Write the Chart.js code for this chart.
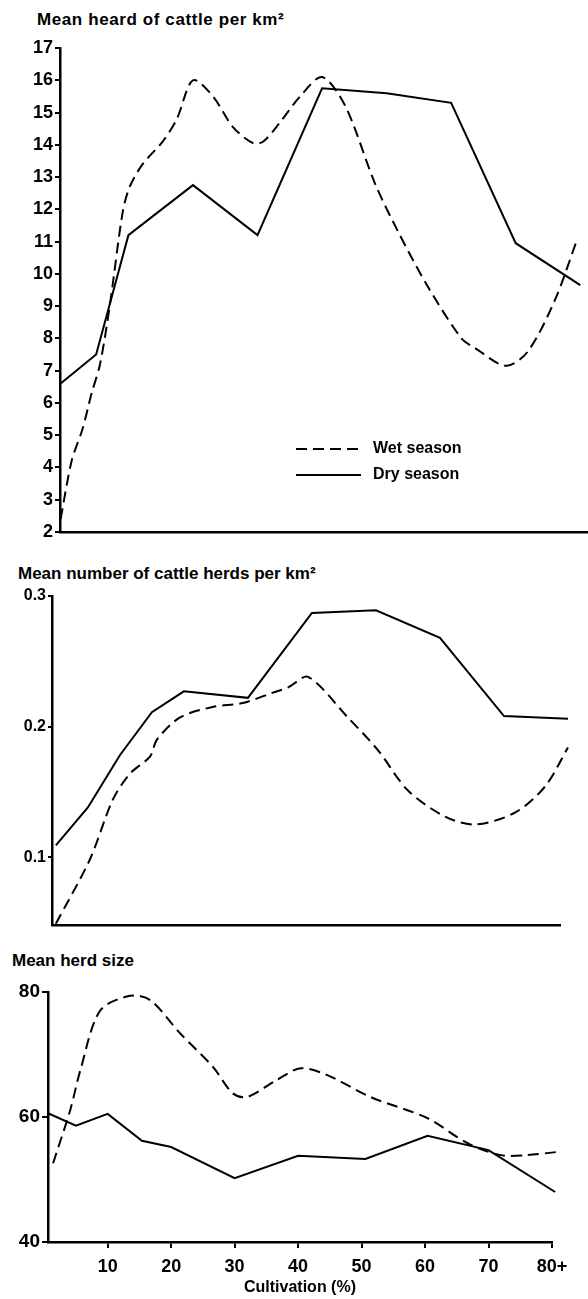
<!DOCTYPE html>
<html>
<head>
<meta charset="utf-8">
<script src="https://cdn.jsdelivr.net/npm/chart.js@4.4.1/dist/chart.umd.min.js"></script>
<style>
  body { margin: 0; background: #fff; width: 588px; height: 1299px; position: relative; overflow: hidden; }
  canvas { position: absolute; left: 0; }
  .title { position: absolute; font: bold 17px "Liberation Sans", Arial, sans-serif; color: #000; white-space: nowrap; line-height: 1; }
</style>
</head>
<body>
<div class="title" style="left:37px; top:11px; letter-spacing:0.6px;">Mean heard of cattle per km²</div>
<canvas id="topChart" width="588" height="548" style="top:0px"></canvas>
<div class="title" style="left:18px; top:565px;">Mean number of cattle herds per km²</div>
<canvas id="midChart" width="588" height="400" style="top:550px"></canvas>
<div class="title" style="left:12px; top:952px;">Mean herd size</div>
<canvas id="botChart" width="588" height="349" style="top:950px"></canvas>
<script>
// values (x = cultivation %)
const seriesNames = ['Wet season', 'Dry season'];

// mean number of cattle per km2
const topWetX = [-0.5, 1.2, 2.9, 4.3, 5.6, 7.1, 9.1, 10.2, 12.2, 15.3, 17.5, 20, 23.1, 26.2, 29.3, 30.9, 33.5, 36.6, 40, 43.6, 48.2, 51.8, 56.4, 61.6, 63.7, 68.5, 71.9, 76.1, 79.4];
const topWetY = [2.4, 4.2, 5.2, 6.3, 7.2, 9.0, 11.9, 12.7, 13.4, 14.1, 14.8, 16.0, 15.5, 14.55, 14.05, 14.1, 14.7, 15.5, 16.1, 15.2, 12.8, 11.3, 9.6, 8.0, 7.7, 7.15, 7.6, 9.2, 11.0];
const topDryX = [-0.5, 5, 10, 20, 30, 40, 50, 60, 70, 80];
const topDryY = [6.6, 7.5, 11.2, 12.75, 11.2, 15.75, 15.6, 15.3, 10.95, 9.65];
const topYTicks = [2, 3, 4, 5, 6, 7, 8, 9, 10, 11, 12, 13, 14, 15, 16, 17];

// mean number of cattle herds per km2
const midWetX = [0, 5.3, 8.9, 11.6, 14.7, 15.8, 19.4, 24.5, 29.2, 33.9, 36.3, 39.4, 45.6, 50.3, 55, 60.8, 65.5, 71.7, 76.4, 80];
const midWetY = [0.049, 0.098, 0.144, 0.164, 0.177, 0.19, 0.207, 0.215, 0.218, 0.226, 0.230, 0.238, 0.207, 0.182, 0.151, 0.131, 0.125, 0.134, 0.154, 0.184];
const midDryX = [0, 5, 10, 15, 20, 30, 40, 50, 60, 70, 80];
const midDryY = [0.109, 0.138, 0.178, 0.211, 0.227, 0.222, 0.287, 0.289, 0.268, 0.208, 0.206];
const midYTicks = [0.1, 0.2, 0.3];

// mean herd size
const botWetX = [1.4, 4.1, 5.7, 8.8, 13.5, 16.7, 21.4, 26.6, 29.7, 32, 36.6, 40.4, 44.6, 51.4, 60.4, 66.7, 71.9, 76, 80.8];
const botWetY = [52.6, 61.1, 67.5, 77, 79.4, 78.7, 73.4, 68, 63.8, 63.2, 65.9, 67.8, 66.7, 63.2, 59.8, 55.8, 53.9, 53.9, 54.4];
const botDryX = [0.6, 5, 10, 15.4, 20, 30, 40, 50.6, 60.4, 70, 80.5];
const botDryY = [60.6, 58.6, 60.5, 56.2, 55.2, 50.2, 53.8, 53.3, 57.0, 54.7, 48.0];
const botYTicks = [40, 60, 80];
const botXTicks = [10, 20, 30, 40, 50, 60, 70, 80];
const botXLabels = ['10', '20', '30', '40', '50', '60', '70', '80+'];

const FONT = '"Liberation Sans", Arial, sans-serif';

function pairs(xs, ys) {
    return xs.map((x, i) => ({ x: x, y: ys[i] }));
}

function seasonSets(wetX, wetY, dryX, dryY) {
    return [{
        label: seriesNames[0],
        data: pairs(wetX, wetY),
        borderColor: '#000',
        borderWidth: 2,
        borderDash: [11, 6],
        tension: 0.3,
        pointRadius: 0,
        clip: false
    }, {
        label: seriesNames[1],
        data: pairs(dryX, dryY),
        borderColor: '#000',
        borderWidth: 2,
        tension: 0,
        pointRadius: 0,
        clip: false
    }];
}

// draws the little key inside the top panel
const seasonKey = {
    id: 'seasonKey',
    afterDatasetsDraw(chart, args, opts) {
        if (!opts.show) return;
        const ctx = chart.ctx;
        chart.data.datasets.forEach((ds, i) => {
            const y = 449 + i * 26;
            ctx.save();
            ctx.strokeStyle = '#000';
            ctx.lineWidth = 2;
            ctx.setLineDash(ds.borderDash || []);
            ctx.beginPath();
            ctx.moveTo(296, y);
            ctx.lineTo(361, y);
            ctx.stroke();
            ctx.setLineDash([]);
            ctx.fillStyle = '#000';
            ctx.font = 'bold 16px ' + FONT;
            ctx.textBaseline = 'middle';
            ctx.fillText(ds.label, 373, y);
            ctx.restore();
        });
    }
};

function buildChart(id, datasets, p) {
    return new Chart(document.getElementById(id), {
        type: 'line',
        data: { datasets: datasets },
        plugins: [seasonKey],
        options: {
            responsive: false,
            animation: false,
            events: [],
            layout: { padding: { top: p.padTop, right: p.padRight, bottom: 0, left: 0 } },
            plugins: {
                legend: { display: false },
                tooltip: { enabled: false },
                seasonKey: { show: !!p.key }
            },
            scales: {
                x: {
                    type: 'linear',
                    min: p.xMin,
                    max: p.xMax,
                    afterFit: s => { s.height = p.xHeight; },
                    afterBuildTicks: s => { s.ticks = (p.xTicks || []).map(v => ({ value: v })); },
                    border: { display: true, color: '#000', width: 2.5 },
                    grid: { display: !!p.xTicks, drawOnChartArea: false, color: '#000', lineWidth: 2, tickLength: 6 },
                    ticks: {
                        display: !!p.xTicks,
                        color: '#000',
                        padding: 8,
                        maxRotation: 0,
                        font: { family: FONT, size: 18, weight: 'bold' },
                        callback: v => p.xLabels ? p.xLabels[p.xTicks.indexOf(v)] : ''
                    },
                    title: {
                        display: !!p.xTitle,
                        text: p.xTitle || '',
                        color: '#000',
                        padding: { top: 0, bottom: 2 },
                        font: { family: FONT, size: 16, weight: 'bold' }
                    }
                },
                y: {
                    min: p.yMin,
                    max: p.yMax,
                    afterFit: s => { s.width = p.yWidth; },
                    afterBuildTicks: s => { s.ticks = p.yTicks.map(v => ({ value: v })); },
                    border: { display: true, color: '#000', width: 2.5 },
                    grid: { drawOnChartArea: false, color: '#000', lineWidth: 2, tickLength: p.tickLen },
                    ticks: {
                        color: '#000',
                        padding: 2,
                        font: { family: FONT, size: p.ySize, weight: 'bold' },
                        callback: v => String(v)
                    }
                }
            }
        }
    });
}

buildChart('topChart', seasonSets(topWetX, topWetY, topDryX, topDryY), {
    padTop: 48, padRight: 0, xHeight: 16, yWidth: 60, tickLen: 5, ySize: 18,
    xMin: -0.6, xMax: 81.2, yMin: 2, yMax: 17, yTicks: topYTicks, key: true
});

buildChart('midChart', seasonSets(midWetX, midWetY, midDryX, midDryY), {
    padTop: 46, padRight: 28, xHeight: 25, yWidth: 52, tickLen: 4, ySize: 16,
    xMin: -0.6, xMax: 78.75, yMin: 0.048, yMax: 0.3, yTicks: midYTicks
});

buildChart('botChart', seasonSets(botWetX, botWetY, botDryX, botDryY), {
    padTop: 42, padRight: 36, xHeight: 57, yWidth: 48, tickLen: 6, ySize: 19,
    xMin: 0.6, xMax: 80, yMin: 40, yMax: 80, yTicks: botYTicks,
    xTicks: botXTicks, xLabels: botXLabels, xTitle: 'Cultivation (%)'
});
</script>
</body>
</html>
